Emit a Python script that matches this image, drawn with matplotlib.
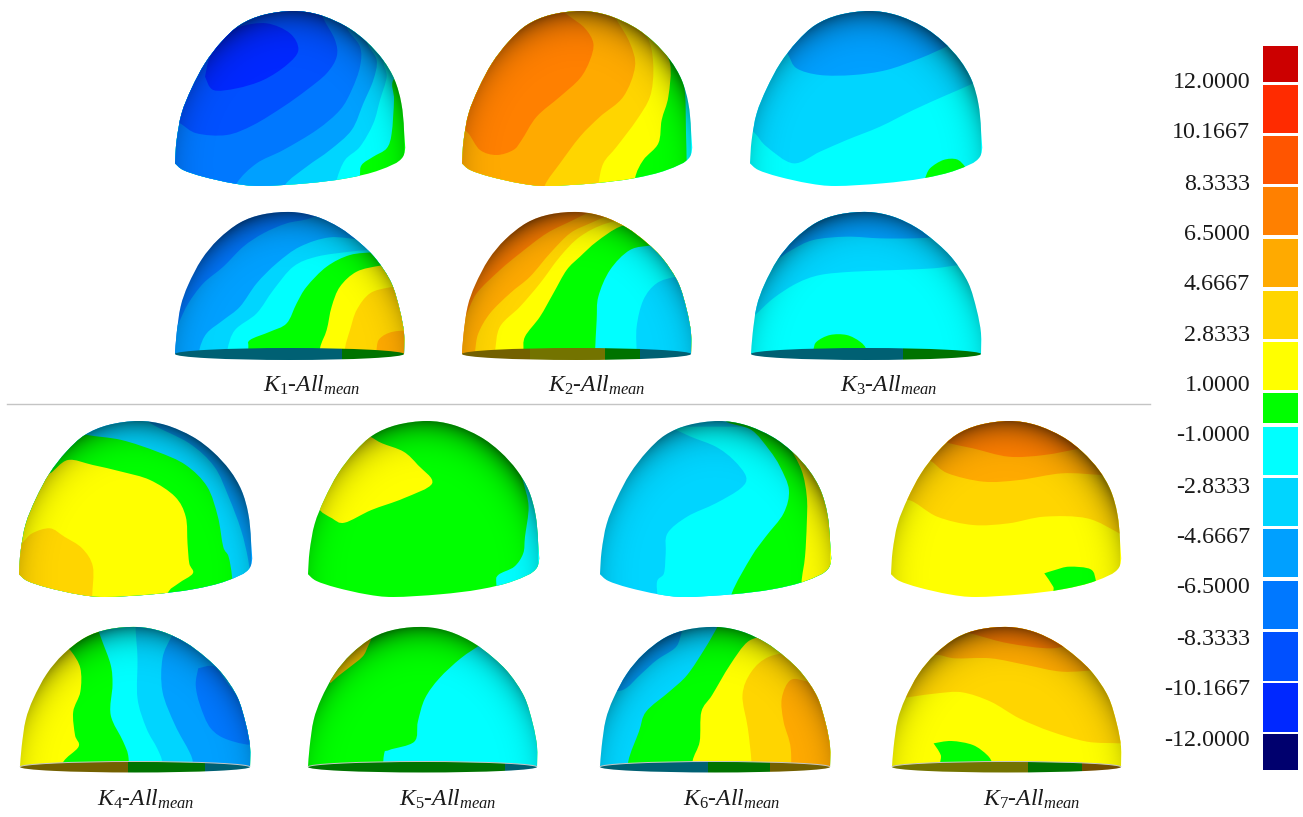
import numpy as np
import matplotlib
matplotlib.use('Agg')
import matplotlib.pyplot as plt
from matplotlib.path import Path
from matplotlib.patches import PathPatch, Ellipse, Rectangle, Arc

plt.rcParams['font.family'] = ['Liberation Serif', 'DejaVu Serif']
plt.rcParams['mathtext.fontset'] = 'custom'
plt.rcParams['mathtext.it'] = 'Liberation Serif:italic'
plt.rcParams['mathtext.rm'] = 'Liberation Serif'

W, H = 1303, 817

# Colour legend, top to bottom
LEVEL_COLORS = ['#00006e', '#0028ff', '#0050ff', '#0078ff', '#00a0ff', '#00d5ff', '#00ffff', '#00ff00',
                '#ffff00', '#ffd500', '#ffaa00', '#ff8000', '#ff5500', '#ff2b00', '#cc0000']
LEGEND_LABELS = ['12.0000', '10.1667', '8.3333', '6.5000', '4.6667', '2.8333', '1.0000',
                 '-1.0000', '-2.8333', '-4.6667', '-6.5000', '-8.3333', '-10.1667', '-12.0000']
LEGEND_LABEL_Y = [80, 130, 182, 232, 282, 333, 383, 433, 485, 535, 585, 637, 687, 738]
LEGEND_BOX_TOP = [46, 85, 136, 187, 239, 291, 342, 393, 427, 478, 529, 581, 632, 683, 734]
LEGEND_BOX_BOTTOM = [82, 133, 184, 235, 287, 339, 390, 423, 475, 526, 577, 629, 681, 732, 770]

# Crops the shapes were read from: x offset, y offset, x scale, y scale
CROP_A = (160, 0, 3, 3)
CROP_B = (160, 200, 3, 3)
CROP_C = (580, 0, 3, 3)
CROP_D = (0, 410, 2.8, 3)
CROP_E = (0, 615, 2.8, 3)
CROP_F = (580, 410, 2.8, 3)
CROP_G = (580, 615, 2.8, 3)

# Dome silhouettes, scaled onto each dome's box
UPPER_OUTLINE = [(45, 490), (50, 420), (65, 340), (95, 265), (135, 190), (185, 125), (240, 75), (310, 45),
                 (400, 33), (480, 45), (560, 80), (620, 125), (670, 180), (705, 240), (725, 310), (733, 390),
                 (730, 470), (660, 510), (560, 535), (440, 550), (300, 558), (220, 550), (130, 530), (70, 510), (45, 490)]
LOWER_OUTLINE = [(45, 462), (50, 400), (62, 320), (85, 255), (125, 180), (175, 120), (240, 70), (310, 45),
                 (395, 38), (470, 52), (540, 85), (600, 130), (650, 180), (695, 250), (720, 330), (733, 400), (733, 462)]

# Bands: (level, boundary, closing corners), painted in order over the base level
K1_UP_BASE = 7
K1_UP = [
    (6, [(760, 200), (700, 240), (702, 300), (695, 400), (680, 445), (640, 470), (605, 495), (600, 530), (600, 620)], [(-100, 620), (-100, -100), (760, -100)]),
    (5, [(720, 140), (672, 180), (680, 230), (660, 300), (640, 370), (600, 440), (555, 480), (530, 540), (515, 620)], [(-100, 620), (-100, -100), (720, -100)]),
    (4, [(660, 90), (622, 125), (650, 180), (640, 240), (610, 310), (575, 390), (510, 450), (440, 500), (375, 555), (360, 620)], [(-100, 620), (-100, -100), (660, -100)]),
    (3, [(590, 40), (560, 80), (600, 140), (600, 200), (575, 270), (540, 330), (470, 390), (370, 450), (290, 490), (230, 550), (210, 620)], [(-100, 620), (-100, -100), (590, -100)]),
    (2, [(470, 0), (490, 55), (525, 120), (530, 170), (500, 220), (440, 270), (370, 320), (280, 375), (200, 405), (110, 400), (60, 370), (0, 340)], [(-100, -100), (470, -100)]),
    (1, [(135, 230), (150, 170), (190, 110), (240, 80), (320, 70), (390, 100), (415, 150), (380, 195), (310, 240), (230, 265), (160, 270), (135, 230)], []),
]
K2_UP_BASE = 6
K2_UP = [
    (7, [(270, 150), (300, 210), (315, 280), (318, 400), (320, 490), (320, 620)], [(-400, 620), (-400, -100), (270, -100)]),
    (8, [(200, 80), (230, 120), (270, 190), (265, 290), (245, 360), (235, 430), (190, 480), (165, 535), (160, 620)], [(-400, 620), (-400, -100), (200, -100)]),
    (9, [(120, 20), (175, 80), (210, 130), (220, 210), (210, 290), (170, 360), (110, 440), (70, 490), (55, 555), (50, 620)], [(-400, 620), (-400, -100), (120, -100)]),
    (10, [(70, 0), (110, 60), (150, 130), (165, 200), (130, 290), (60, 350), (0, 410), (-60, 490), (-105, 555), (-120, 620)], [(-400, 620), (-400, -100), (70, -100)]),
    (11, [(-370, 370), (-335, 400), (-300, 450), (-250, 465), (-200, 450), (-175, 420), (-130, 350), (-60, 290), (0, 235), (30, 180), (40, 130), (15, 85), (-30, 50), (-100, 0)], [(-100, -100), (-370, -100)]),
]
K3_UP_BASE = 6
K3_UP = [
    (5, [(480, 360), (525, 400), (560, 440), (640, 490), (720, 455), (800, 420), (900, 380), (1000, 330), (1100, 285), (1180, 250), (1260, 210)], [(1260, -100), (480, -100)]),
    (4, [(600, 120), (625, 165), (650, 205), (720, 225), (820, 225), (920, 210), (1020, 175), (1110, 135), (1180, 100)], [(1180, -100), (600, -100)]),
    (7, [(1035, 535), (1050, 505), (1090, 480), (1130, 478), (1155, 500), (1170, 530), (1180, 600), (1035, 600), (1035, 535)], []),
]
K1_LOW_BASE = 3
K1_LOW = [
    (4, [(40, 390), (55, 370), (85, 310), (130, 250), (190, 200), (250, 140), (310, 100), (380, 70), (450, 55), (520, 20)], [(800, 20), (800, 520), (40, 520)]),
    (5, [(110, 520), (118, 450), (140, 400), (190, 360), (240, 320), (290, 250), (350, 190), (420, 140), (510, 112), (610, 118), (660, 100)], [(800, 100), (800, 520)]),
    (6, [(195, 520), (202, 450), (225, 390), (290, 340), (340, 270), (400, 200), (470, 170), (570, 155), (660, 145), (720, 120)], [(800, 120), (800, 520)]),
    (7, [(260, 520), (265, 445), (270, 420), (330, 395), (380, 370), (410, 310), (440, 260), (500, 200), (570, 165), (650, 155), (720, 140)], [(800, 140), (800, 520)]),
    (8, [(475, 520), (480, 445), (500, 390), (515, 320), (540, 260), (590, 215), (660, 197), (720, 190)], [(800, 190), (800, 520)]),
    (9, [(550, 520), (555, 445), (570, 390), (590, 330), (630, 280), (690, 262), (760, 255)], [(800, 255), (800, 520)]),
    (10, [(645, 520), (650, 445), (660, 415), (700, 395), (780, 390)], [(800, 390), (800, 520)]),
]
K2_LOW_BASE = 11
K2_LOW = [
    (10, [(-380, 980), (-345, 950), (-310, 880), (-240, 810), (-180, 760), (-100, 700), (-20, 660), (40, 630)], [(400, 630), (400, 1100), (-380, 1100)]),
    (9, [(-320, 1100), (-315, 1055), (-305, 1000), (-270, 940), (-210, 880), (-150, 830), (-90, 760), (-30, 700), (30, 670), (100, 640)], [(400, 640), (400, 1100)]),
    (8, [(-260, 1100), (-255, 1055), (-240, 980), (-180, 920), (-120, 850), (-60, 770), (0, 710), (80, 670), (190, 650)], [(400, 650), (400, 1100)]),
    (7, [(-175, 1100), (-170, 1055), (-165, 1010), (-120, 950), (-80, 880), (-40, 810), (0, 770), (50, 725), (120, 680), (190, 670), (260, 660)], [(400, 660), (400, 1100)]),
    (6, [(45, 1100), (45, 1060), (50, 960), (55, 890), (90, 810), (150, 750), (220, 735), (290, 720)], [(400, 720), (400, 1100)]),
    (5, [(170, 1100), (170, 1060), (170, 980), (190, 900), (230, 850), (290, 830), (380, 820)], [(400, 820), (400, 1100)]),
]
K3_LOW_BASE = 6
K3_LOW = [
    (5, [(480, 980), (525, 945), (580, 895), (650, 850), (720, 825), (820, 815), (950, 810), (1060, 805), (1140, 795), (1260, 785)], [(1260, 500), (480, 500)]),
    (4, [(590, 780), (635, 750), (700, 720), (800, 710), (900, 715), (1000, 715), (1075, 710), (1180, 690)], [(1180, 500), (590, 500)]),
    (7, [(690, 1100), (700, 1050), (710, 1025), (750, 1005), (800, 1005), (840, 1025), (860, 1050), (870, 1100)], []),
]
K4_UP_BASE = 4
K4_UP = [
    (5, [(420, 0), (420, 38), (530, 100), (600, 170), (640, 260), (675, 360), (695, 450), (710, 560)], [(710, 620), (0, 620), (0, 0)]),
    (7, [(200, 60), (245, 75), (340, 90), (440, 125), (520, 165), (580, 230), (610, 320), (625, 410), (640, 440), (650, 505), (655, 620)], [(0, 620), (0, 60)]),
    (8, [(110, 190), (140, 190), (190, 150), (260, 165), (340, 185), (420, 210), (490, 260), (520, 320), (525, 400), (530, 460), (540, 490), (500, 520), (470, 550), (470, 620)], [(0, 620), (0, 190)]),
    (9, [(20, 420), (60, 400), (90, 370), (140, 355), (180, 380), (230, 415), (260, 470), (258, 560), (258, 620)], [(0, 620), (0, 420)]),
]
K5_UP_BASE = 7
K5_UP = [
    (8, [(1045, 85), (1070, 100), (1130, 125), (1170, 165), (1210, 220), (1130, 265), (1040, 300), (965, 338), (930, 325), (890, 290), (880, 200), (980, 60), (1045, 85)], []),
    (6, [(1450, 160), (1465, 215), (1480, 290), (1470, 380), (1465, 430), (1440, 470), (1395, 495), (1390, 525), (1400, 620)], [(1600, 620), (1600, 160)]),
]
K6_UP_BASE = 5
K6_UP = [
    (6, [(250, 50), (310, 80), (380, 110), (430, 150), (465, 200), (450, 235), (380, 280), (300, 320), (245, 370), (240, 430), (235, 490), (215, 520), (225, 620)], [(800, 620), (800, 50)]),
    (7, [(400, 0), (410, 35), (480, 60), (530, 120), (560, 170), (585, 240), (570, 310), (520, 380), (480, 440), (425, 550), (420, 620)], [(800, 620), (800, 0)]),
    (8, [(550, 60), (580, 100), (620, 180), (635, 260), (635, 340), (630, 440), (620, 520), (620, 620)], [(800, 620), (800, 60)]),
]
K7_UP_BASE = 8
K7_UP = [
    (9, [(860, 290), (920, 270), (1000, 320), (1100, 345), (1200, 340), (1300, 320), (1420, 325), (1510, 370), (1560, 400)], [(1560, 0), (860, 0)]),
    (10, [(950, 140), (985, 155), (1030, 190), (1130, 215), (1230, 210), (1350, 190), (1460, 195), (1540, 200)], [(1540, 0), (950, 0)]),
    (11, [(1000, 85), (1035, 100), (1100, 115), (1200, 140), (1300, 135), (1400, 115), (1460, 100)], [(1460, 0), (1000, 0)]),
    (7, [(1300, 490), (1330, 480), (1370, 470), (1430, 478), (1445, 515), (1450, 560), (1335, 560), (1325, 530), (1300, 490)], []),
]
K4_LOW_BASE = 8
K4_LOW = [
    (7, [(170, 80), (200, 110), (225, 160), (225, 230), (205, 290), (210, 360), (220, 395), (175, 445), (170, 520)], [(760, 520), (760, 0), (170, 0)]),
    (6, [(270, 30), (285, 75), (310, 150), (315, 210), (310, 300), (345, 380), (360, 430), (358, 520)], [(760, 520), (760, 0), (270, 0)]),
    (5, [(380, 0), (380, 48), (385, 130), (385, 250), (410, 340), (440, 400), (455, 445), (455, 520)], [(760, 520), (760, 0)]),
    (4, [(500, 30), (480, 65), (455, 130), (455, 230), (490, 330), (530, 410), (540, 445), (540, 520)], [(760, 520), (760, 0), (500, 0)]),
    (3, [(555, 160), (600, 155), (640, 210), (710, 310), (715, 385), (640, 375), (590, 340), (560, 270), (548, 210), (555, 160)], []),
]
K5_LOW_BASE = 7
K5_LOW = [
    (6, [(1370, 60), (1350, 85), (1290, 130), (1230, 190), (1190, 250), (1170, 320), (1160, 380), (1090, 405), (1075, 420), (1070, 520)], [(1600, 520), (1600, 60)]),
    (9, [(1040, 70), (1030, 95), (1015, 125), (975, 160), (945, 185), (925, 205)], [(900, 70)]),
]
K6_LOW_BASE = 5
K6_LOW = [
    (4, [(60, 225), (120, 225), (170, 178), (215, 135), (265, 100), (280, 70), (290, 20)], [(60, 20)]),
    (7, [(395, 10), (385, 35), (350, 100), (300, 180), (250, 230), (185, 290), (165, 350), (135, 440), (135, 520)], [(760, 520), (760, 10)]),
    (8, [(540, 40), (525, 60), (470, 80), (420, 150), (370, 240), (340, 290), (335, 380), (315, 440), (315, 520)], [(760, 520), (760, 40)]),
    (9, [(620, 105), (530, 125), (480, 170), (455, 240), (470, 340), (480, 440), (480, 520)], [(760, 520), (760, 105)]),
    (10, [(720, 220), (640, 200), (590, 195), (565, 250), (570, 320), (590, 400), (590, 520)], [(760, 520), (760, 220)]),
]
K7_LOW_BASE = 8
K7_LOW = [
    (9, [(860, 255), (930, 245), (1000, 235), (1070, 232), (1150, 260), (1230, 310), (1320, 350), (1420, 380), (1510, 385), (1560, 390)], [(1560, 0), (860, 0)]),
    (10, [(960, 120), (1005, 120), (1050, 130), (1150, 130), (1250, 150), (1350, 170), (1460, 165), (1520, 170)], [(1520, 0), (960, 0)]),
    (11, [(1080, 50), (1110, 60), (1200, 85), (1320, 100), (1400, 80), (1450, 60)], [(1450, 0), (1080, 0)]),
    (7, [(990, 385), (1040, 378), (1100, 390), (1140, 420), (1155, 445), (1160, 470), (1020, 470), (1010, 420), (990, 385)], []),
]

# Underside strips of the lower domes: (level, x from, x to) in image pixels
K1_STRIP = [(5, 175, 342), (7, 342, 404)]
K2_STRIP = [(9, 462, 530), (8, 530, 605), (7, 605, 640), (5, 640, 692)]
K3_STRIP = [(5, 751, 903), (7, 903, 981)]
K4_STRIP = [(9, 20, 128), (7, 128, 205), (5, 205, 250)]
K5_STRIP = [(7, 308, 505), (5, 505, 538)]
K6_STRIP = [(5, 600, 708), (7, 708, 770), (9, 770, 830)]
K7_STRIP = [(8, 892, 1028), (7, 1028, 1082), (10, 1082, 1121)]

CAPTIONS = ['1', '2', '3', '4', '5', '6', '7']
CAPTION_LEFT = [263, 548, 840, 97, 399, 683, 983]
CAPTION_Y = [392, 392, 392, 806, 806, 806, 806]


def to_pixels(points, crop):
    pts = np.array(points, dtype=float)
    return np.column_stack([crop[0] + pts[:, 0] / crop[2], crop[1] + pts[:, 1] / crop[3]])


def smooth_path(pts, closing):
    # Catmull-Rom through the read points, closing corners stay straight
    n = len(pts)
    verts = [pts[0]]
    codes = [Path.MOVETO]
    for i in range(n - 1):
        p0, p1, p2, p3 = pts[max(i - 1, 0)], pts[i], pts[i + 1], pts[min(i + 2, n - 1)]
        verts += [p1 + (p2 - p0) / 6, p2 - (p3 - p1) / 6, p2]
        codes += [Path.CURVE4] * 3
    for p in closing:
        verts.append(p)
        codes.append(Path.LINETO)
    verts.append(pts[0])
    codes.append(Path.CLOSEPOLY)
    return Path(verts, codes)


def shade_dome(ax, clip, x0, x1, top, bottom, upper):
    # darkens towards the crown, only a little along the sides
    xx, yy = np.meshgrid(np.linspace(-1, 1, 240), np.linspace(0, 1, 180))
    c = 0.82 if upper else 1.0
    r = np.sqrt(xx ** 2 + ((c - yy) / c) ** 2)
    alpha = 0.5 * np.clip(r, 0, 1.05) ** 9 * (0.25 + 0.75 * (1 - yy) ** 1.5)
    rgba = np.zeros(xx.shape + (4,))
    rgba[..., 3] = np.clip(alpha, 0, 0.6)
    im = ax.imshow(rgba, extent=(x0, x1, bottom, top), origin='upper', aspect='auto', zorder=3, interpolation='bilinear')
    im.set_clip_path(clip)


def draw_dome(ax, box, base, bands, crop, strip=None):
    x0, x1, top, bottom = box
    template = np.array(UPPER_OUTLINE if strip is None else LOWER_OUTLINE, dtype=float)
    ty0, ty1 = template[:, 1].min(), template[:, 1].max()
    outline = np.column_stack([
        x0 + (template[:, 0] - 45) / (733 - 45) * (x1 - x0),
        top + (template[:, 1] - ty0) / (ty1 - ty0) * (bottom - top),
    ])
    clip = PathPatch(smooth_path(outline, []), facecolor=LEVEL_COLORS[base], edgecolor='none', zorder=1)
    ax.add_patch(clip)
    for level, boundary, closing in bands:
        b = to_pixels(boundary, crop)
        c = to_pixels(closing, crop) if closing else []
        p = PathPatch(smooth_path(b, c), facecolor=LEVEL_COLORS[level], edgecolor='none', zorder=2)
        ax.add_patch(p)
        p.set_clip_path(clip)
    shade_dome(ax, clip, x0, x1, top, bottom, strip is None)
    if strip is not None:
        cx = (x0 + x1) / 2
        half = 6 if bottom < 500 else 5.5
        lens = Ellipse((cx, bottom), x1 - x0, 2 * half, facecolor='none', edgecolor='none', zorder=4)
        ax.add_patch(lens)
        for level, a, b in strip:
            rgb = np.array(matplotlib.colors.to_rgb(LEVEL_COLORS[level])) * 0.45
            r = Rectangle((a, bottom - half - 1), b - a, 2 * half + 2, facecolor=rgb, edgecolor='none', zorder=4)
            ax.add_patch(r)
            r.set_clip_path(lens)
        if bottom > 500:
            ax.add_patch(Arc((cx, bottom), x1 - x0, 2 * half, theta1=180, theta2=360, color='#c8c8c8', lw=0.7, zorder=5))


fig = plt.figure(figsize=(W / 100, H / 100), dpi=100, facecolor='white')
ax = fig.add_axes([0, 0, 1, 1])
ax.axis('off')

draw_dome(ax, (175, 404, 11, 186), K1_UP_BASE, K1_UP, CROP_A)
draw_dome(ax, (462, 691, 11, 186), K2_UP_BASE, K2_UP, CROP_C)
draw_dome(ax, (750, 981, 11, 186), K3_UP_BASE, K3_UP, CROP_C)
draw_dome(ax, (175, 404, 212, 354), K1_LOW_BASE, K1_LOW, CROP_B, K1_STRIP)
draw_dome(ax, (462, 691, 212, 354), K2_LOW_BASE, K2_LOW, CROP_C, K2_STRIP)
draw_dome(ax, (751, 981, 212, 354), K3_LOW_BASE, K3_LOW, CROP_C, K3_STRIP)
draw_dome(ax, (19, 251, 421, 597), K4_UP_BASE, K4_UP, CROP_D)
draw_dome(ax, (308, 538, 421, 597), K5_UP_BASE, K5_UP, CROP_D)
draw_dome(ax, (600, 830, 421, 597), K6_UP_BASE, K6_UP, CROP_F)
draw_dome(ax, (891, 1120, 421, 597), K7_UP_BASE, K7_UP, CROP_F)
draw_dome(ax, (20, 250, 627, 767), K4_LOW_BASE, K4_LOW, CROP_E, K4_STRIP)
draw_dome(ax, (308, 537, 627, 767), K5_LOW_BASE, K5_LOW, CROP_E, K5_STRIP)
draw_dome(ax, (600, 830, 627, 767), K6_LOW_BASE, K6_LOW, CROP_G, K6_STRIP)
draw_dome(ax, (892, 1121, 627, 767), K7_LOW_BASE, K7_LOW, CROP_G, K7_STRIP)

# divider between the two groups
ax.plot([7, 1150], [404, 404], color='#c4c4c4', lw=1, zorder=1)

for n, x, y in zip(CAPTIONS, CAPTION_LEFT, CAPTION_Y):
    ax.text(x, y, r'$K_{\mathrm{%s}}$-$All_{mean}$' % n, fontsize=17, style='italic', ha='left', va='baseline', color='#1a1a1a')

# colour legend
colours = LEVEL_COLORS[::-1]
for t, b, c in zip(LEGEND_BOX_TOP, LEGEND_BOX_BOTTOM, colours):
    ax.bar(1280.5, b - t, width=35.5, bottom=t, color=c, linewidth=0, zorder=2)
for label, y in zip(LEGEND_LABELS, LEGEND_LABEL_Y):
    ax.text(1250, y + 8, label, fontsize=17.3, ha='right', va='baseline', color='#1a1a1a')

ax.set_xlim(0, W)
ax.set_ylim(H, 0)
fig.savefig('out.png', dpi=100)
